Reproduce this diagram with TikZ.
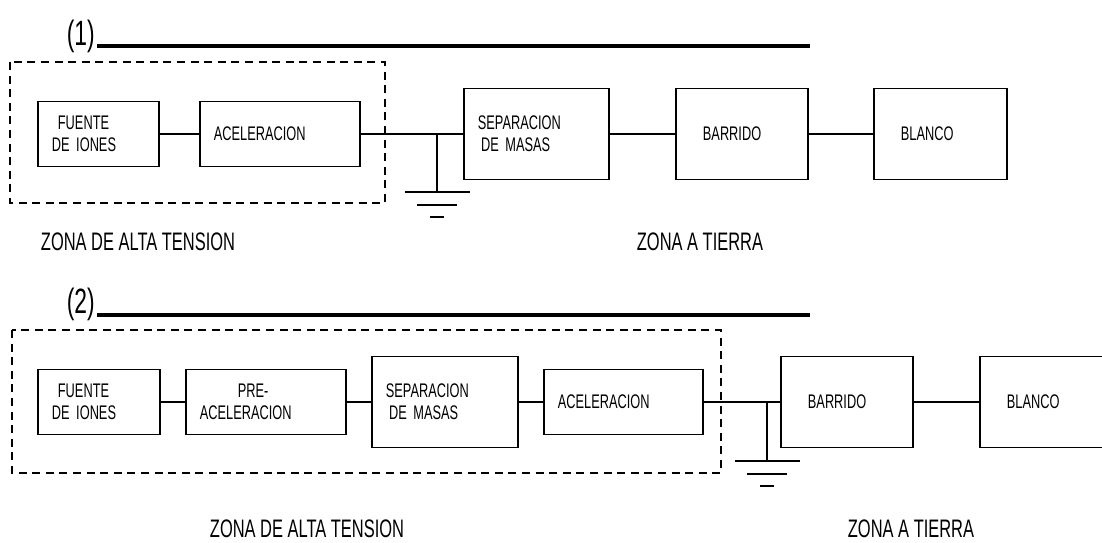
\documentclass[tikz,border=0pt]{standalone}
\usepackage{fontspec}
\setmainfont{Liberation Sans}[FakeStretch=0.65]

\begin{document}
\begin{tikzpicture}[x=0.025cm, y=-0.025cm,
	caja/.style={draw, line width=1.3pt, anchor=west, align=left, inner xsep=0.35cm, font=\fontsize{14}{15.5}\selectfont},
	ancha/.style={inner xsep=0.675cm},
	chica/.style={minimum height=1.625cm},
	grande/.style={minimum height=2.275cm},
	linea/.style={line width=1pt},
	zona/.style={draw, dash pattern=on 0.2cm off 0.14cm, line width=1.2pt},
	rotulo/.style={font=\fontsize{18}{20}\selectfont},
	titulo/.style={font=\fontsize{25}{28}\selectfont, anchor=base east, inner sep=0pt},
	raya/.style={line width=2.2pt},
	tierra/.style={line width=1.1pt}]
	\useasboundingbox (0,0) rectangle (1102,542);
	\clip (0,0) rectangle (1102,542);

	% (1) Titulo
	\node[titulo] (t1) at (95,45) {(1)};
	\coordinate (l1) at (97,46);
	\coordinate (r1) at (810,46);
	\draw[raya] (l1) -- (r1);
	% Zona de alta tension
	\draw[zona] (10,62) rectangle (385,203);
	% Bloques
	\node[caja, chica, text width=2.325cm] (fuente1) at (37,134) {\hspace*{0.15cm}FUENTE\\DE IONES};
	\node[caja, chica, text width=3.3cm] (acel1) at (199,134) {ACELERACION};
	\node[caja, grande, text width=2.925cm] (sep1) at (463,134) {SEPARACION\\\hspace*{0.08cm}DE MASAS};
	\node[caja, grande, ancha, text width=1.95cm] (barr1) at (675,134) {BARRIDO};
	\node[caja, grande, ancha, text width=1.975cm] (blanco1) at (873,134) {BLANCO};
	% Conexiones
	\draw[linea] (fuente1) -- (acel1);
	\draw[linea] (acel1) -- (sep1);
	\draw[linea] (sep1) -- (barr1);
	\draw[linea] (barr1) -- (blanco1);
	% Tierra
	\coordinate (g1) at (437,192);
	\draw[linea] (acel1.east -| g1) -- (g1);
	\draw[tierra] (g1) ++(-32,0) -- ++(65,0)
		(g1) ++(-20,13) -- ++(40,0)
		(g1) ++(-7,25) -- ++(14,0);
	% Rotulos
	\node[rotulo] (alta1) at (138,242) {ZONA DE ALTA TENSION};
	\node[rotulo] (suelo1) at (700,242) {ZONA A TIERRA};

	% (2) Titulo
	\node[titulo] (t2) at (95,313) {(2)};
	\coordinate (l2) at (97,315);
	\coordinate (r2) at (810,315);
	\draw[raya] (l2) -- (r2);
	% Zona de alta tension
	\draw[zona] (12,330) rectangle (721,473);
	% Bloques
	\node[caja, chica, text width=2.35cm] (fuente2) at (37,402) {\hspace*{0.15cm}FUENTE\\DE IONES};
	\node[caja, chica, text width=3.3cm] (pre2) at (185,402) {\hspace*{0.95cm}PRE-\\ACELERACION};
	\node[caja, grande, text width=2.95cm] (sep2) at (371,402) {SEPARACION\\\hspace*{0.08cm}DE MASAS};
	\node[caja, chica, text width=3.275cm] (acel2) at (543,402) {ACELERACION};
	\node[caja, grande, ancha, text width=1.95cm] (barr2) at (780,402) {BARRIDO};
	\node[caja, grande, ancha, text width=1.975cm] (blanco2) at (979,402) {BLANCO};
	% Conexiones
	\draw[linea] (fuente2) -- (pre2);
	\draw[linea] (pre2) -- (sep2);
	\draw[linea] (sep2) -- (acel2);
	\draw[linea] (acel2) -- (barr2);
	\draw[linea] (barr2) -- (blanco2);
	% Tierra
	\coordinate (g2) at (767,461);
	\draw[linea] (acel2.east -| g2) -- (g2);
	\draw[tierra] (g2) ++(-32,0) -- ++(65,0)
		(g2) ++(-20,13) -- ++(40,0)
		(g2) ++(-7,25) -- ++(14,0);
	% Rotulos
	\node[rotulo] (alta2) at (307,529) {ZONA DE ALTA TENSION};
	\node[rotulo] (suelo2) at (911,529) {ZONA A TIERRA};
\end{tikzpicture}
\end{document}
